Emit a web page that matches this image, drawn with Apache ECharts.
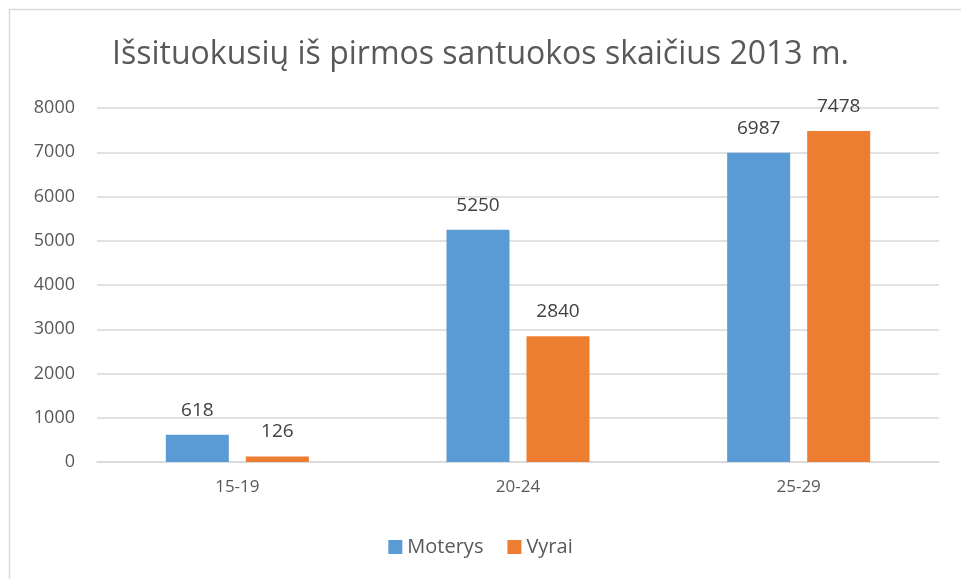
<!DOCTYPE html>
<html>
<head>
<meta charset="utf-8">
<script src="https://cdn.jsdelivr.net/npm/echarts@6/dist/echarts.min.js"></script>
<style>
  html, body { margin: 0; padding: 0; background: #fff; }
  #chart { width: 961px; height: 579px; }
</style>
</head>
<body>
<div id="chart"></div>
<script>
// amžiaus grupės ir reikšmės
const categories = ['15-19', '20-24', '25-29'];
const moterys = [618, 5250, 6987];
const vyrai = [126, 2840, 7478];
const yTicks = [0, 1000, 2000, 3000, 4000, 5000, 6000, 7000, 8000];

const FONT = '"Open Sans", sans-serif';

const chart = echarts.init(document.getElementById('chart'));

chart.setOption({
    animation: false,
    backgroundColor: '#fff',
    textStyle: { fontFamily: FONT },
    title: {
        text: 'Išsituokusių iš pirmos santuokos skaičius 2013 m.',
        left: 'center',
        top: 34,
        textStyle: { fontFamily: FONT, fontSize: 32, fontWeight: 'normal', color: '#595959' }
    },
    graphic: [{
        type: 'rect',
        shape: { x: 9.5, y: 9.5, width: 1000, height: 1000 },
        style: { fill: 'none', stroke: '#d9d9d9', lineWidth: 1.5 },
        silent: true
    }],
    legend: {
        bottom: 17,
        left: 'center',
        itemWidth: 14,
        itemHeight: 14,
        itemGap: 24,
        icon: 'rect',
        textStyle: { fontFamily: FONT, fontSize: 20, color: '#595959' },
        data: ['Moterys', 'Vyrai']
    },
    grid: { left: 97, right: 22, top: 108, bottom: 117 },
    xAxis: {
        type: 'category',
        data: categories,
        axisTick: { show: false },
        axisLine: { lineStyle: { color: '#d9d9d9', width: 1.5 } },
        axisLabel: { fontFamily: FONT, fontSize: 17, color: '#595959', margin: 17 }
    },
    yAxis: {
        type: 'value',
        min: yTicks[0],
        max: yTicks[yTicks.length - 1],
        interval: 1000,
        axisLine: { show: false },
        axisTick: { show: false },
        splitLine: { lineStyle: { color: '#d9d9d9', width: 1.5 } },
        axisLabel: { fontFamily: FONT, fontSize: 18, color: '#595959', margin: 22, formatter: v => String(v) }
    },
    series: [
        {
            name: 'Moterys',
            type: 'bar',
            data: moterys,
            barWidth: 63,
            barGap: '27%',
            itemStyle: { color: '#5B9BD5' },
            label: { show: true, position: 'top', distance: 15, fontFamily: FONT, fontSize: 19, color: '#404040' }
        },
        {
            name: 'Vyrai',
            type: 'bar',
            data: vyrai,
            barWidth: 63,
            itemStyle: { color: '#ED7D31' },
            label: { show: true, position: 'top', distance: 15, fontFamily: FONT, fontSize: 19, color: '#404040' }
        }
    ]
});
</script>
</body>
</html>
